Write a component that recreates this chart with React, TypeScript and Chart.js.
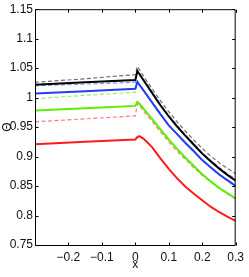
import React, { useEffect, useRef } from "react";
import { Chart, registerables } from "chart.js";

Chart.register(...registerables);

const xs = [-0.3, -0.15, 0, 0.006, 0.012, 0.025, 0.05, 0.075, 0.1, 0.125, 0.15, 0.175, 0.2, 0.225, 0.25, 0.275, 0.3];

const blackSolid = [1.022, 1.026, 1.030, 1.045, 1.040, 1.029, 1.008, 0.987, 0.968, 0.951, 0.935, 0.920, 0.905, 0.892, 0.880, 0.869, 0.859];
const blueSolid = [1.007, 1.011, 1.015, 1.027, 1.022, 1.012, 0.992, 0.972, 0.953, 0.938, 0.923, 0.909, 0.894, 0.882, 0.870, 0.860, 0.850];
const greenSolid = [0.978, 0.982, 0.986, 0.993, 0.990, 0.981, 0.964, 0.946, 0.929, 0.913, 0.898, 0.884, 0.870, 0.858, 0.847, 0.838, 0.829];
const redSolid = [0.921, 0.925, 0.929, 0.933, 0.9345, 0.930, 0.916, 0.897, 0.879, 0.863, 0.849, 0.837, 0.826, 0.815, 0.806, 0.798, 0.791];

const grayDashed = [1.026, 1.032, 1.039, 1.053, 1.048, 1.036, 1.015, 0.995, 0.976, 0.959, 0.943, 0.928, 0.914, 0.901, 0.890, 0.880, 0.871];
const blueDashed = [1.020, 1.023, 1.026, 1.047, 1.042, 1.031, 1.010, 0.989, 0.970, 0.953, 0.937, 0.922, 0.907, 0.894, 0.882, 0.871, 0.862];
const greenDashed = [0.998, 1.004, 1.009, 1.026, 1.021, 1.011, 0.991, 0.971, 0.952, 0.937, 0.922, 0.908, 0.893, 0.881, 0.869, 0.859, 0.849];
const redDashed = [0.959, 0.964, 0.969, 0.990, 0.987, 0.977, 0.960, 0.942, 0.925, 0.909, 0.895, 0.881, 0.868, 0.857, 0.846, 0.837, 0.828];

const xTickValues = [-0.3, -0.2, -0.1, 0, 0.1, 0.2, 0.3];
const yTickValues = [0.75, 0.8, 0.85, 0.9, 0.95, 1, 1.05, 1.1, 1.15];

const FONT = "'Liberation Sans Narrow', 'Liberation Sans', Arial, sans-serif";

const pts = (ys: number[]) => xs.map((x, i) => ({ x, y: ys[i] }));

const solid = (label: string, ys: number[], color: string) => ({
  label,
  data: pts(ys),
  borderColor: color,
  borderWidth: 2,
  pointRadius: 0,
  tension: 0,
  fill: false,
});
const dashed = (label: string, ys: number[], color: string) => ({
  label,
  data: pts(ys),
  borderColor: color,
  borderWidth: 1.2,
  borderDash: [4, 2.5],
  pointRadius: 0,
  tension: 0,
  fill: false,
});

const frame = {
  id: "frame",
  afterDraw(chart: any) {
    const { ctx, chartArea } = chart;
    const { left, right, top, bottom } = chartArea;
    ctx.save();
    ctx.strokeStyle = "#000";
    ctx.lineWidth = 1;
    ctx.beginPath();
    ctx.rect(left + 0.5, top + 0.5, right - left - 1, bottom - top);
    ctx.stroke();
    const tl = 3;
    const xs_ = chart.scales.x;
    const ys_ = chart.scales.y;
    ctx.beginPath();
    xs_.ticks.forEach((t: any) => {
      const px = Math.round(xs_.getPixelForValue(t.value)) + 0.5;
      ctx.moveTo(px, bottom + 0.5);
      ctx.lineTo(px, bottom + 0.5 - tl);
      ctx.moveTo(px, top + 0.5);
      ctx.lineTo(px, top + 0.5 + tl);
    });
    ys_.ticks.forEach((t: any) => {
      const py = Math.round(ys_.getPixelForValue(t.value)) + 0.5;
      ctx.moveTo(left + 0.5, py);
      ctx.lineTo(left + 0.5 + tl, py);
      ctx.moveTo(right - 0.5, py);
      ctx.lineTo(right - 0.5 - tl, py);
    });
    ctx.stroke();
    ctx.restore();
  },
};

const bg = {
  id: "bg",
  beforeDraw(chart: any) {
    const { ctx, width, height } = chart;
    ctx.save();
    ctx.fillStyle = "#fff";
    ctx.fillRect(0, 0, width, height);
    ctx.restore();
  },
};

export default function App() {
  const ref = useRef<HTMLCanvasElement>(null);
  useEffect(() => {
    if (!ref.current) return;
    const chart = new Chart(ref.current, {
      type: "line",
      data: {
        datasets: [
          solid("black", blackSolid, "#000000"),
          solid("blue", blueSolid, "#1f3cff"),
          solid("green", greenSolid, "#5cf000"),
          solid("red", redSolid, "#ff1a1a"),
          dashed("gray-d", grayDashed, "#6e6e6e"),
          dashed("blue-d", blueDashed, "#7b96ff"),
          dashed("green-d", greenDashed, "#97ee66"),
          dashed("red-d", redDashed, "#ff7a7a"),
        ],
      },
      options: {
        responsive: false,
        animation: false,
        events: [],
        layout: { padding: { top: 9, right: 8, left: 0, bottom: 0 } },
        plugins: { legend: { display: false }, tooltip: { enabled: false } },
        scales: {
          x: {
            type: "linear",
            min: -0.3,
            max: 0.3,
            afterBuildTicks: (s: any) => {
              s.ticks = xTickValues.map((v) => ({ value: v }));
            },
            afterFit: (s: any) => {
              s.height = 32;
            },
            grid: { display: false, drawTicks: false },
            border: { display: false },
            ticks: {
              padding: 5,
              color: "#111",
              font: { family: FONT, size: 12 },
              maxRotation: 0,
              autoSkip: false,
              callback: (v: any) => {
                const n = Number(v);
                if (Math.abs(n + 0.3) < 1e-9) return "";
                const s = String(Number(Math.abs(n).toFixed(2)));
                return n < 0 ? "\u2212" + s : s;
              },
            },
            title: {
              display: true,
              text: "x",
              color: "#111",
              font: { family: FONT, size: 12 },
              padding: { top: 0, bottom: 5 },
            },
          },
          y: {
            type: "linear",
            min: 0.75,
            max: 1.15,
            afterBuildTicks: (s: any) => {
              s.ticks = yTickValues.map((v) => ({ value: v }));
            },
            afterFit: (s: any) => {
              s.width = 35;
            },
            grid: { display: false, drawTicks: false },
            border: { display: false },
            ticks: {
              padding: 2,
              color: "#111",
              font: { family: FONT, size: 12 },
              autoSkip: false,
              callback: (v: any) => String(Number(Number(v).toFixed(2))),
            },
            title: {
              display: true,
              text: "Θ",
              color: "#111",
              font: { family: FONT, size: 12 },
              padding: { top: 0, bottom: 0 },
            },
          },
        },
      },
      plugins: [bg, frame],
    });
    return () => chart.destroy();
  }, []);
  return (
    <canvas
      ref={ref}
      width={249}
      height={277}
      style={{ position: "absolute", left: 0, top: 0, display: "block" }}
    />
  );
}
